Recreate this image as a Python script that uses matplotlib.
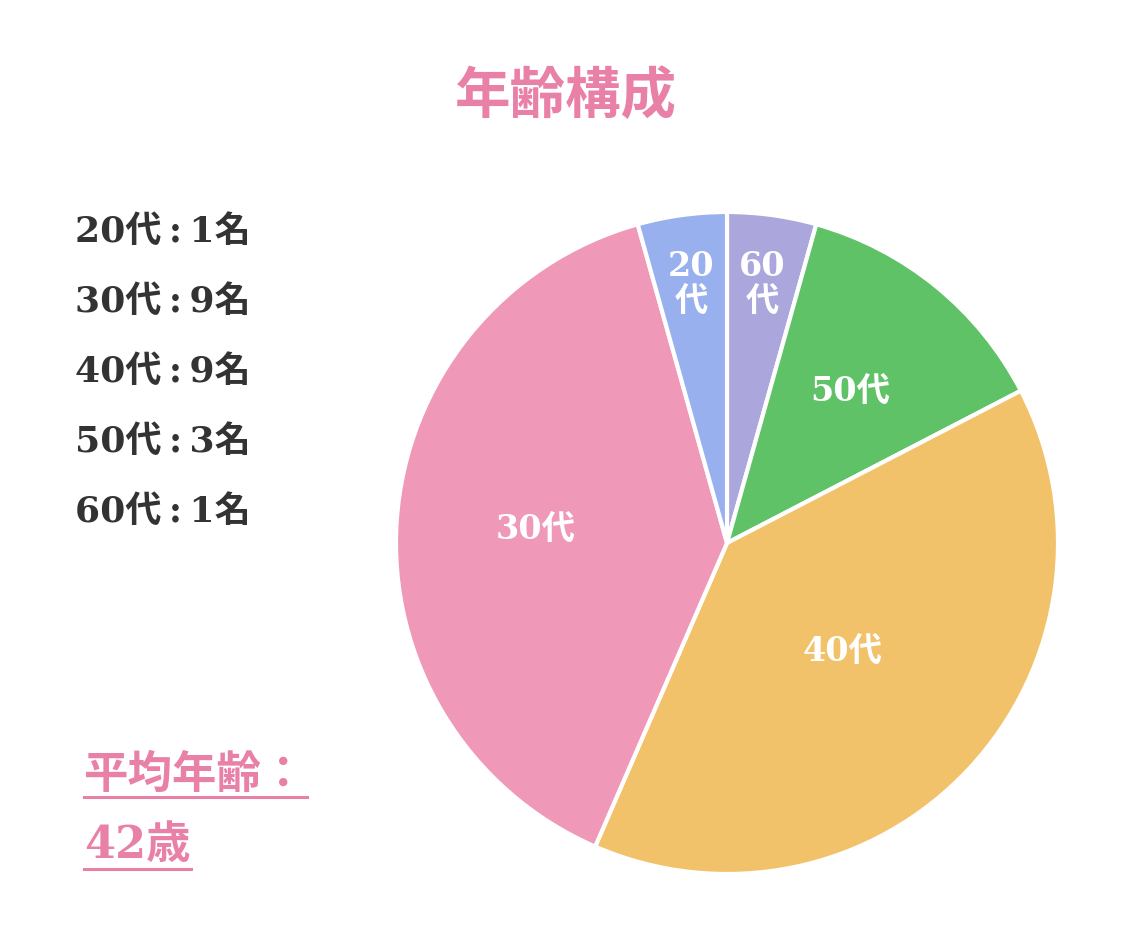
import numpy as np
import matplotlib
matplotlib.use('Agg')
import matplotlib.pyplot as plt
from matplotlib.lines import Line2D

plt.rcParams['font.family'] = ['DejaVu Serif', 'Noto Sans CJK JP', 'DejaVu Sans']

# data
ages = ['60代', '50代', '40代', '30代', '20代']
counts = [1, 3, 9, 9, 1]
colors = ['#aba7dd', '#60c267', '#f2c26b', '#ef98b8', '#98b0ee']
label_text = ['60\n代', '50代', '40代', '30代', '20\n代']
label_dist = [0.79, 0.59, 0.48, 0.58, 0.79]

legend_order = ['20代', '30代', '40代', '50代', '60代']
legend_counts = [1, 9, 9, 3, 1]

title = '年齢構成'
avg_age = 42

pink = '#e980a8'
dark = '#333333'

fig = plt.figure(figsize=(11.32, 9.52), dpi=100)
ax = fig.add_axes([396 / 1132, 1 - 874 / 952, 662 / 1132, 662 / 952])

wedges, _ = ax.pie(counts, colors=colors, startangle=90, counterclock=False,
                   wedgeprops=dict(edgecolor='white', linewidth=3))
ax.set_aspect('equal')
ax.set_xlim(-1, 1)
ax.set_ylim(-1, 1)

for w, txt, d in zip(wedges, label_text, label_dist):
    mid = np.deg2rad((w.theta1 + w.theta2) / 2)
    ax.text(d * np.cos(mid), d * np.sin(mid), txt, ha='center', va='center',
            color='white', fontsize=24, fontweight='bold', linespacing=1.05)

fig.text(566 / 1132, 1 - 97 / 952, title, ha='center', va='center',
         color=pink, fontsize=40, fontweight='bold')

for i, (a, c) in enumerate(zip(legend_order, legend_counts)):
    fig.text(75 / 1132, 1 - (232 + i * 70) / 952, f'{a}\u2009:\u2009{c}名', ha='left',
             va='center', color=dark, fontsize=26, fontweight='bold')

t1 = fig.text(84 / 1132, 1 - 775 / 952, '平均年齢：', ha='left', va='center',
              color=pink, fontsize=32, fontweight='bold')
t2 = fig.text(84 / 1132, 1 - 845 / 952, f'{avg_age}歳', ha='left', va='center',
              color=pink, fontsize=32, fontweight='bold')

fig.canvas.draw()
r = fig.canvas.get_renderer()
for t, y in [(t1, 797), (t2, 869)]:
    bb = t.get_window_extent(r)
    x0 = bb.x0 / 1132
    x1 = bb.x1 / 1132
    fig.add_artist(Line2D([x0, x1], [1 - y / 952, 1 - y / 952], color=pink, linewidth=2.2))

fig.savefig('out.png', dpi=100, facecolor='white')
